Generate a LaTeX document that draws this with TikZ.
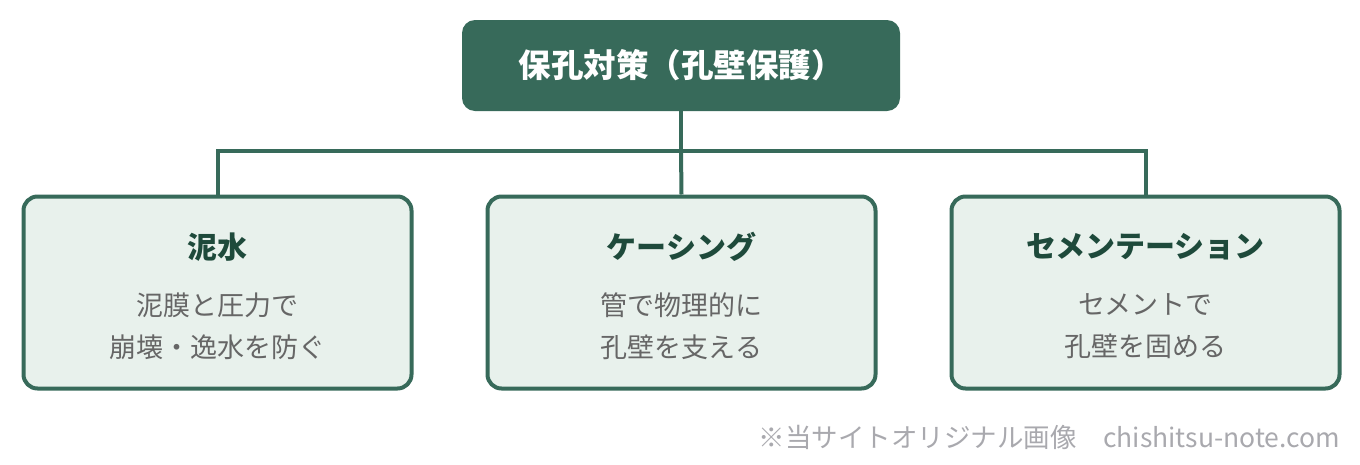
\documentclass[tikz,border=0pt]{standalone}
\usepackage{fontspec}
\setmainfont{Noto Sans CJK JP}
\usepackage{tikz,xcolor}
\usetikzlibrary{positioning,calc}
\definecolor{deepgreen}{HTML}{376A5A}
\definecolor{palegreen}{HTML}{E8F1EC}
\definecolor{titlegreen}{HTML}{1E4A3B}
\definecolor{bodygray}{HTML}{666666}
\definecolor{notegray}{HTML}{A9A9AE}
\tikzstyle{branch} = [draw=deepgreen,line width=4pt]
\tikzstyle{methodbox} = [shape=rectangle,draw=deepgreen,line width=4pt,fill=palegreen,rounded corners=14pt,minimum width=388pt,minimum height=192pt]

\begin{document}
\begin{tikzpicture}[x=1pt,y=-1pt,every node/.style={inner sep=0pt}]
    \useasboundingbox (0,0) rectangle (1360,464);
    % create the nodes
    \node (root)[shape=rectangle, fill=deepgreen, rounded corners=13pt, minimum width=438pt, minimum height=91pt, text=white, font=\fontsize{32.5}{36}\selectfont\bfseries] at (681,65.5) {保孔対策（孔壁保護）};
    \node (mud)[methodbox] at (217.5,292.5) {};
    \node (casing)[methodbox] at (681.5,292.5) {};
    \node (cement)[methodbox] at (1145.5,292.5) {};
    \coordinate (hub) at (681,151);

    \node (mudT)[text=titlegreen, font=\fontsize{30}{34}\selectfont\bfseries] at (217.5,247) {泥水};
    \node (mudB)[text=bodygray, align=center, font=\fontsize{27}{42}\selectfont] at (217.5,326) {泥膜と圧力で\\崩壊・逸水を防ぐ};
    \node (casingT)[text=titlegreen, font=\fontsize{30}{34}\selectfont\bfseries] at (681.5,247) {ケーシング};
    \node (casingB)[text=bodygray, align=center, font=\fontsize{27}{42}\selectfont] at (681.5,326) {管で物理的に\\孔壁を支える};
    \node (cementT)[text=titlegreen, font=\fontsize{30}{34}\selectfont\bfseries] at (1145.5,247) {セメンテーション};
    \node (cementB)[text=bodygray, align=center, font=\fontsize{27}{42}\selectfont] at (1145.5,326) {セメントで\\孔壁を固める};

    \node (credit)[anchor=east, text=notegray, font=\fontsize{26.5}{30}\selectfont] at (1340,437) {※当サイトオリジナル画像\hspace{1em}chishitsu-note.com};

    % connect the nodes
    \draw[branch] (root.south) -- (hub);
    \draw[branch] (mud.north) |- (hub) -| (cement.north);
    \draw[branch] (hub) -- (casing.north);
\end{tikzpicture}
\end{document}
